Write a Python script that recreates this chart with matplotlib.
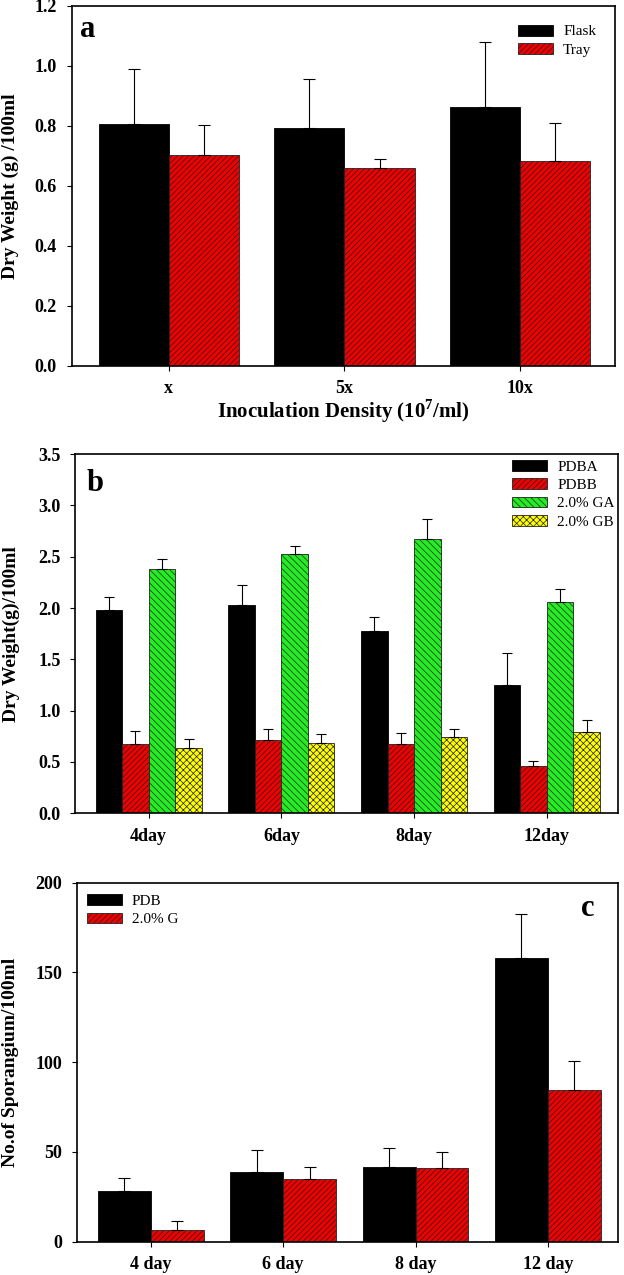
import numpy as np
import matplotlib
matplotlib.use("Agg")
import matplotlib.pyplot as plt

plt.rcParams['font.family'] = ['Liberation Serif', 'DejaVu Serif']
plt.rcParams['hatch.linewidth'] = 0.5
plt.rcParams['mathtext.fontset'] = 'custom'
plt.rcParams['mathtext.rm'] = 'Liberation Serif'
plt.rcParams['mathtext.bf'] = 'Liberation Serif:bold'

# panel a
dens_labels = ['x', '5x', '10x']
flask = [0.807, 0.793, 0.863]
flask_top = [0.991, 0.958, 1.079]
tray = [0.704, 0.660, 0.683]
tray_top = [0.803, 0.689, 0.811]

# panel b
day_labels_b = ['4day', '6day', '8day', '12day']
pdba = [1.98, 2.03, 1.78, 1.247]
pdba_top = [2.11, 2.22, 1.91, 1.565]
pdbb = [0.68, 0.714, 0.68, 0.458]
pdbb_top = [0.805, 0.825, 0.78, 0.506]
ga = [2.38, 2.53, 2.67, 2.058]
ga_top = [2.48, 2.60, 2.87, 2.19]
gb = [0.636, 0.688, 0.74, 0.789]
gb_top = [0.72, 0.776, 0.818, 0.912]

# panel c
day_labels_c = ['4 day', '6 day', '8 day', '12 day']
pdb = [28.4, 38.6, 41.6, 158.2]
pdb_top = [35.5, 50.9, 52.2, 182.5]
g2 = [6.3, 34.9, 40.9, 84.7]
g2_top = [11.5, 41.8, 50.0, 100.5]

styles = {
    'black': dict(color='black', edgecolor='black', hatch=None),
    'red': dict(color='#f00000', edgecolor='#222222', hatch='//////'),
    'green': dict(color='#22ee22', edgecolor='#222222', hatch='\\\\\\\\\\'),
    'yellow': dict(color='#ffff00', edgecolor='#222222', hatch='xxxxx'),
}


def bars(ax, x, vals, tops, style, width, label, capsize):
    st = styles[style]
    ax.bar(x, vals, width, color=st['color'], edgecolor=st['edgecolor'],
           hatch=st['hatch'], linewidth=0.6, label=label, zorder=2)
    up = np.array(tops) - np.array(vals)
    ax.errorbar(x, vals, yerr=[np.zeros_like(up), up], fmt='none',
                ecolor='black', elinewidth=0.8, capsize=capsize,
                capthick=0.8, zorder=3)


def style_axes(ax):
    for s in ax.spines.values():
        s.set_linewidth(1.2)
    ax.tick_params(axis='both', which='both', direction='out', length=3.6,
                   width=0.8, top=False, right=False, labelsize=13)
    ax.tick_params(axis='x', pad=7)
    ax.tick_params(axis='y', pad=7)
    for t in ax.get_xticklabels() + ax.get_yticklabels():
        t.set_fontweight('bold')


def legend(ax, anchor):
    ax.legend(loc='upper left', bbox_to_anchor=anchor, frameon=False,
              fontsize=11, handlelength=2.3, handleheight=0.72,
              borderpad=0, borderaxespad=0, labelspacing=0.3,
              handletextpad=0.65)


fig = plt.figure(figsize=(6.24, 12.75), dpi=100)

# ---- a ----
ax1 = fig.add_axes([0.1146, 0.7132, 0.871, 0.2821])
xa = np.arange(len(dens_labels))
bars(ax1, xa - 0.2, flask, flask_top, 'black', 0.4, 'Flask', 4)
bars(ax1, xa + 0.2, tray, tray_top, 'red', 0.4, 'Tray', 4)
ax1.set_xlim(-0.554, 2.541)
ax1.set_ylim(0, 1.2)
ax1.set_xticks(xa)
ax1.set_xticklabels(dens_labels)
ax1.set_yticks(np.arange(0, 1.21, 0.2))
ax1.set_yticklabels(['%.1f' % v for v in np.arange(0, 1.21, 0.2)])
style_axes(ax1)
ax1.set_ylabel('Dry Weight (g) /100ml', fontsize=14, fontweight='bold')
ax1.yaxis.set_label_coords(-0.097, 0.5)
ax1.set_xlabel(r'Inoculation Density (10$^{\mathbf{7}}$/ml)', fontsize=15,
               fontweight='bold', labelpad=0)
ax1.text(0.0156, 0.975, 'a', transform=ax1.transAxes, fontsize=22,
         fontweight='bold', va='top', ha='left')
legend(ax1, (0.8215, 0.948))

# ---- b ----
ax2 = fig.add_axes([0.1208, 0.3621, 0.8696, 0.2818])
xb = np.arange(len(day_labels_b))
bars(ax2, xb - 0.3, pdba, pdba_top, 'black', 0.2, 'PDBA', 3.6)
bars(ax2, xb - 0.1, pdbb, pdbb_top, 'red', 0.2, 'PDBB', 3.6)
bars(ax2, xb + 0.1, ga, ga_top, 'green', 0.2, '2.0% GA', 3.6)
bars(ax2, xb + 0.3, gb, gb_top, 'yellow', 0.2, '2.0% GB', 3.6)
ax2.set_xlim(-0.553, 3.537)
ax2.set_ylim(0, 3.5)
ax2.set_xticks(xb)
ax2.set_xticklabels(day_labels_b)
ax2.set_yticks(np.arange(0, 3.51, 0.5))
ax2.set_yticklabels(['%.1f' % v for v in np.arange(0, 3.51, 0.5)])
style_axes(ax2)
ax2.set_ylabel('Dry Weight(g)/100ml', fontsize=14, fontweight='bold')
ax2.yaxis.set_label_coords(-0.102, 0.5)
ax2.text(0.021, 0.958, 'b', transform=ax2.transAxes, fontsize=22,
         fontweight='bold', va='top', ha='left')
legend(ax2, (0.805, 0.984))

# ---- c ----
ax3 = fig.add_axes([0.1228, 0.0261, 0.8676, 0.2816])
xc = np.arange(len(day_labels_c))
bars(ax3, xc - 0.2, pdb, pdb_top, 'black', 0.4, 'PDB', 4.3)
bars(ax3, xc + 0.2, g2, g2_top, 'red', 0.4, '2.0% G', 4.3)
ax3.set_xlim(-0.561, 3.53)
ax3.set_ylim(0, 200)
ax3.set_xticks(xc)
ax3.set_xticklabels(day_labels_c)
ax3.set_yticks([0, 50, 100, 150, 200])
style_axes(ax3)
ax3.set_ylabel('No.of Sporangium/100ml', fontsize=14, fontweight='bold')
ax3.yaxis.set_label_coords(-0.106, 0.5)
ax3.text(0.932, 0.968, 'c', transform=ax3.transAxes, fontsize=22,
         fontweight='bold', va='top', ha='left')
legend(ax3, (0.019, 0.968))

fig.savefig('out.png', dpi=100)
